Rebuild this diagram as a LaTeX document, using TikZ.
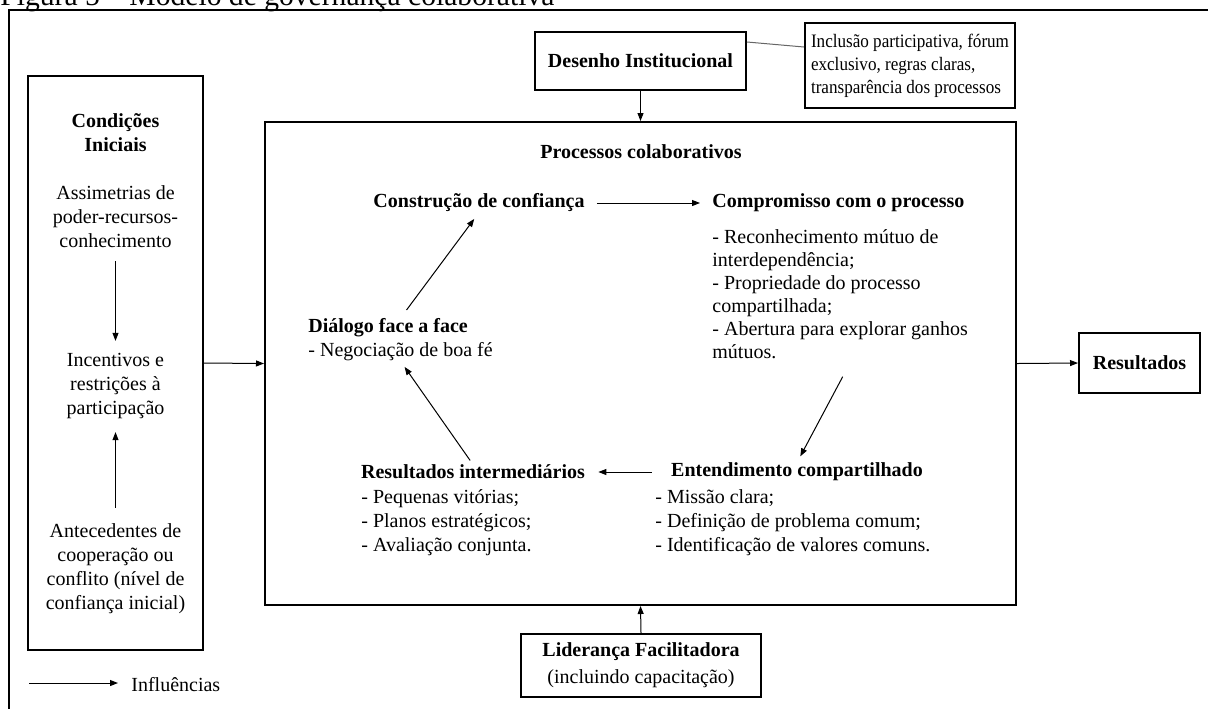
\documentclass[tikz,border=0pt]{standalone}
\usepackage{fontspec}
\setmainfont{Liberation Serif}
\newfontfamily\narrowserif{Liberation Serif}[FakeStretch=0.9]
\usetikzlibrary{arrows.meta}

\begin{document}
\begin{tikzpicture}[x=0.5pt,y=-0.5pt,
  every node/.style={inner sep=0pt, font=\fontsize{10}{12}\selectfont},
  frame/.style={draw, line width=1pt},
  hd/.style={font=\fontsize{10}{12}\selectfont\bfseries},
  blk/.style={align=center},
  lst/.style={align=left, anchor=north west},
  link/.style={line width=0.5pt, -{Triangle[length=4pt,width=3pt]}},
  tie/.style={line width=0.5pt, draw=black!60},
]
\useasboundingbox (0,0) rectangle (1208,708);
\clip (0,0) rectangle (1208,708);

% caption (top cut off) and enclosing frame
\node[anchor=base west, font=\fontsize{14.8}{16}\selectfont] (ttl) at (0,5)
  {Figura 5 -- Modelo de governança colaborativa};
\draw[line width=1pt] (9,720) -- (9,10) -- (1220,10);

% initial conditions
\node[frame, minimum width=87.5pt, minimum height=287pt] (ci) at (115.5,363) {};
\node[hd, blk] (ciT) at (115.5,133) {Condições\\Iniciais};
\node[blk] (asm) at (115.5,217) {Assimetrias de\\poder-recursos-\\conhecimento};
\node[blk] (inc) at (115.5,386) {Incentivos e\\restrições à\\participação};
\node[blk] (ant) at (115.5,569) {Antecedentes de\\cooperação ou\\conflito (nível de\\confiança inicial)};
\draw[link, shorten <=6.5pt, shorten >=6pt] (asm.south) -- (inc.north);
\draw[link, shorten <=8pt, shorten >=6.5pt] (ant.north) -- (inc.south);

% collaborative process
\node[frame, minimum width=375.5pt, minimum height=241.5pt] (proc) at (640.5,363.5) {};
\node[hd] (procT) at (641,152) {Processos colaborativos};
\node[hd] (constr) at (479,203) {Construção de confiança};
\node[hd, anchor=west] (comp) at (712,203) {Compromisso com o processo};
\node[lst, font=\fontsize{10}{11.5}\selectfont] (compL) at (712,229)
  {- Reconhecimento mútuo de\\interdependência;\\- Propriedade do processo\\compartilhada;\\- Abertura para explorar ganhos\\mútuos.};
\node[lst] (dial) at (308,318) {\textbf{Diálogo face a face}\\- Negociação de boa fé};
\node[hd] (resint) at (473,472) {Resultados intermediários};
\node[lst] (resintL) at (361,489) {- Pequenas vitórias;\\- Planos estratégicos;\\- Avaliação conjunta.};
\node[hd] (ent) at (797,472) {Entendimento compartilhado};
\node[lst] (entL) at (655,489) {- Missão clara;\\- Definição de problema comum;\\- Identificação de valores comuns.};

\draw[link, shorten <=6pt, shorten >=6pt] (constr.east) -- (comp.west);
\draw[link, shorten <=10pt, shorten >=3.5pt] ([xshift=6pt]compL.south) -- (ent.north);
\draw[link, shorten <=9.5pt, shorten >=6.5pt] (ent.west) -- (resint.east);
\draw[link, shorten <=2.5pt, shorten >=3.5pt] (resint.north) -- (dial.south);
\draw[link, shorten <=5pt, shorten >=4pt] (dial.north) -- (constr.south);

% institutional design
\node[frame, hd, minimum width=105.5pt, minimum height=29pt] (des) at (640.5,61) {Desenho Institucional};
\node[frame, align=left, minimum width=105pt, minimum height=42.5pt,
  font=\narrowserif\fontsize{9.5}{11.5}\selectfont] (inclu) at (910,65.5)
  {Inclusão participativa, fórum\\exclusivo, regras claras,\\transparência dos processos};
\draw[tie] ([yshift=9.5pt]des.east) -- ([yshift=9.25pt]inclu.west);
\draw[link] (des.south) -- (proc.north);

% facilitative leadership
\node[frame, align=center, minimum width=120pt, minimum height=31.5pt,
  font=\fontsize{10}{13.5}\selectfont] (lid) at (641,665.5)
  {\textbf{Liderança Facilitadora}\\(incluindo capacitação)};
\draw[link] (lid.north) -- (proc.south);

% outcomes
\node[frame, hd, minimum width=60.5pt, minimum height=30pt] (res) at (1139.5,363) {Resultados};
\draw[link] (ci.east) -- (proc.west);
\draw[link] (proc.east) -- (res.west);

% legend
\coordinate (lgA) at (29,683);
\coordinate (lgB) at (118,683);
\draw[link] (lgA) -- (lgB);
\node[anchor=west] (lgT) at (131,685) {Influências};
\end{tikzpicture}
\end{document}
